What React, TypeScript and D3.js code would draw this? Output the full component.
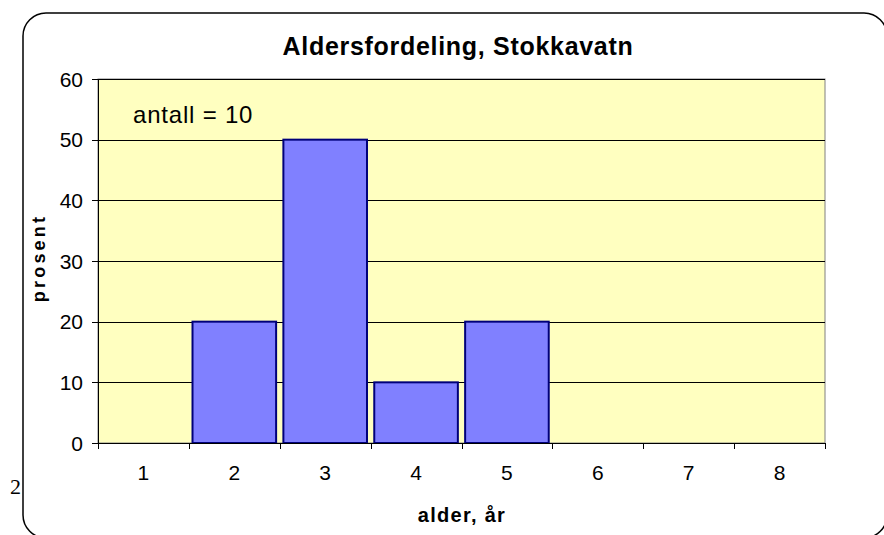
import React from 'react';
import * as d3 from 'd3';

// age classes and share of fish (percent)
const ages = ['1', '2', '3', '4', '5', '6', '7', '8'];
const percent = [0, 20, 50, 10, 20, 0, 0, 0];
const yTicks = [0, 10, 20, 30, 40, 50, 60];

const W = 884;
const H = 535;
const plot = { left: 98, right: 825, top: 79, bottom: 443 };
const font = '"Liberation Sans", Arial, sans-serif';

export default function App() {
  const x = d3
    .scaleBand<string>()
    .domain(ages)
    .range([plot.left, plot.right])
    .paddingInner(0.08)
    .paddingOuter(0.04);

  const y = d3.scaleLinear().domain([0, 60]).range([plot.bottom, plot.top]);

  const step = x.step();
  const boundaries = d3.range(ages.length + 1).map((i) => plot.left + i * step);

  return (
    <svg
      width={W}
      height={H}
      style={{ position: 'absolute', left: 0, top: 0, background: '#fff' }}
    >
      {/* stray label left of the frame */}
      <text x={10} y={494} fontFamily="'Liberation Serif', 'Times New Roman', serif" fontSize={22}>
        2
      </text>

      {/* chart frame */}
      <rect x={23} y={13} width={864} height={525} rx={23} ry={23} fill="none" stroke="#000" strokeWidth={1.5} />

      {/* plot area */}
      <rect
        x={plot.left}
        y={plot.top}
        width={plot.right - plot.left}
        height={plot.bottom - plot.top}
        fill="#FFFFC0"
        stroke="#808080"
        strokeWidth={1}
      />

      {/* gridlines */}
      {yTicks.map((t) => (
        <line
          key={'g' + t}
          x1={plot.left}
          x2={plot.right}
          y1={Math.round(y(t)) + 0.5}
          y2={Math.round(y(t)) + 0.5}
          stroke="#000"
          strokeWidth={1}
        />
      ))}

      {/* bars */}
      {ages.map((a, i) =>
        percent[i] > 0 ? (
          <rect
            key={'b' + a}
            x={x(a)}
            y={y(percent[i])}
            width={x.bandwidth()}
            height={y(0) - y(percent[i])}
            fill="#8080FF"
            stroke="#00007A"
            strokeWidth={2}
          />
        ) : null
      )}

      {/* y axis */}
      <line x1={plot.left + 0.5} x2={plot.left + 0.5} y1={plot.top} y2={plot.bottom} stroke="#000" />
      {yTicks.map((t) => (
        <g key={'yt' + t}>
          <line
            x1={plot.left - 6}
            x2={plot.left}
            y1={Math.round(y(t)) + 0.5}
            y2={Math.round(y(t)) + 0.5}
            stroke="#000"
          />
          <text
            x={83}
            y={y(t)}
            dy="0.36em"
            textAnchor="end"
            fontFamily={font}
            fontSize={21}
            fill="#000"
          >
            {t}
          </text>
        </g>
      ))}

      {/* x axis */}
      <line x1={plot.left} x2={plot.right} y1={plot.bottom + 0.5} y2={plot.bottom + 0.5} stroke="#000" />
      {boundaries.map((bx, i) => (
        <line
          key={'xt' + i}
          x1={Math.round(bx) + 0.5}
          x2={Math.round(bx) + 0.5}
          y1={plot.bottom}
          y2={plot.bottom + 6}
          stroke="#000"
        />
      ))}
      {ages.map((a) => (
        <text
          key={'xl' + a}
          x={(x(a) as number) + x.bandwidth() / 2}
          y={480}
          textAnchor="middle"
          fontFamily={font}
          fontSize={21}
          fill="#000"
        >
          {a}
        </text>
      ))}

      {/* titles */}
      <text x={458} y={55} textAnchor="middle" fontFamily={font} fontSize={25} fontWeight="bold" letterSpacing={0.7}>
        Aldersfordeling, Stokkavatn
      </text>
      <text x={462} y={522} textAnchor="middle" fontFamily={font} fontSize={20} fontWeight="bold" letterSpacing={1.3}>
        alder, år
      </text>
      <text
        transform="translate(45,258) rotate(-90)"
        textAnchor="middle"
        fontFamily={font}
        fontSize={18}
        fontWeight="bold"
        letterSpacing={3.2}
      >
        prosent
      </text>

      <text x={133} y={123} fontFamily={font} fontSize={24} letterSpacing={0.8} fill="#000">
        antall = 10
      </text>
    </svg>
  );
}
